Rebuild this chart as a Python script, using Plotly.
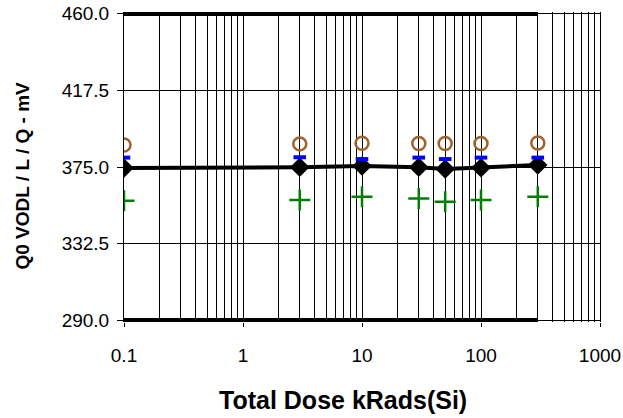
import plotly.graph_objects as go

dose = [0.1, 3, 10, 30, 50, 100, 300]
q0_mean = [374.4, 374.8, 375.5, 374.8, 373.9, 374.6, 376.1]
q0_max = [387.2, 387.8, 388.1, 388.0, 388.0, 388.0, 388.3]
q0_avg_plus = [380.2, 380.4, 379.4, 380.2, 379.4, 380.2, 380.2]
q0_min = [356.3, 356.7, 358.5, 357.6, 355.7, 356.7, 358.5]
upper_limit = [460.0] * len(dose)
lower_limit = [290.0] * len(dose)

y_ticks = [290.0, 332.5, 375.0, 417.5, 460.0]
x_ticks = [0.1, 1, 10, 100, 1000]
x_tick_text = ["0.1", "1", "10", "100", "1000"]
minor_grid = [m * 10 ** e for e in range(-1, 3) for m in range(2, 10)]

FONT = "Liberation Sans, Arial, sans-serif"

fig = go.Figure()
fig.add_trace(go.Scatter(x=dose, y=upper_limit, mode="lines",
                         line=dict(color="black", width=5), showlegend=False))
fig.add_trace(go.Scatter(x=dose, y=lower_limit, mode="lines",
                         line=dict(color="black", width=5), showlegend=False))
fig.add_trace(go.Scatter(x=dose, y=q0_mean, mode="lines+markers",
                         line=dict(color="black", width=4),
                         marker=dict(symbol="diamond", size=15, color="black"),
                         showlegend=False))
fig.add_trace(go.Scatter(x=dose, y=q0_max, mode="markers",
                         marker=dict(symbol="circle-open", size=13,
                                     line=dict(color="#A0622D", width=2.5), color="#A0622D"),
                         showlegend=False))
fig.add_trace(go.Scatter(x=dose, y=q0_avg_plus, mode="markers",
                         marker=dict(symbol="line-ew", size=9,
                                     line=dict(color="#0000FF", width=4), color="#0000FF"),
                         showlegend=False))
fig.add_trace(go.Scatter(x=dose, y=q0_min, mode="markers",
                         marker=dict(symbol="cross-thin", size=15,
                                     line=dict(color="#008000", width=2.5), color="#008000"),
                         showlegend=False))

fig.update_layout(
    width=623, height=418,
    margin=dict(l=124, r=23, t=12, b=96),
    paper_bgcolor="white", plot_bgcolor="white",
    font=dict(family=FONT, color="black", size=19),
    xaxis=dict(
        type="log", range=[-1, 3], automargin=False,
        tickvals=x_ticks, ticktext=x_tick_text,
        ticks="outside", ticklen=4, tickcolor="black",
        ticklabelstandoff=12,
        showgrid=True, gridcolor="black", gridwidth=1,
        minor=dict(tickvals=minor_grid, showgrid=True, gridcolor="black",
                   gridwidth=1, ticks=""),
        showline=False, zeroline=False,
        tickfont=dict(size=19, family=FONT),
    ),
    yaxis=dict(
        range=[289.2, 460.8], automargin=False,
        tickvals=y_ticks, ticktext=[f"{v:.1f}" for v in y_ticks],
        ticks="outside", ticklen=6, tickcolor="black",
        ticklabelstandoff=4,
        showgrid=True, gridcolor="black", gridwidth=1,
        showline=True, linecolor="black", linewidth=1, mirror=True,
        zeroline=False,
        tickfont=dict(size=19, family=FONT),
    ),
    annotations=[
        dict(text="<b>Total Dose kRads(Si)</b>", xref="paper", yref="paper",
             x=(343 - 124) / 476, y=0, yshift=-(400 - 322), showarrow=False,
             xanchor="center", yanchor="middle",
             font=dict(size=25, family=FONT)),
        dict(text="<b>Q0 VODL / L / Q - mV</b>", xref="paper", yref="paper",
             x=0, xshift=-(124 - 21.5), y=(418 - 96 - 176) / 310, showarrow=False,
             textangle=-90, xanchor="center", yanchor="middle",
             font=dict(size=19, family=FONT)),
    ],
)

fig.write_html("out.html")
